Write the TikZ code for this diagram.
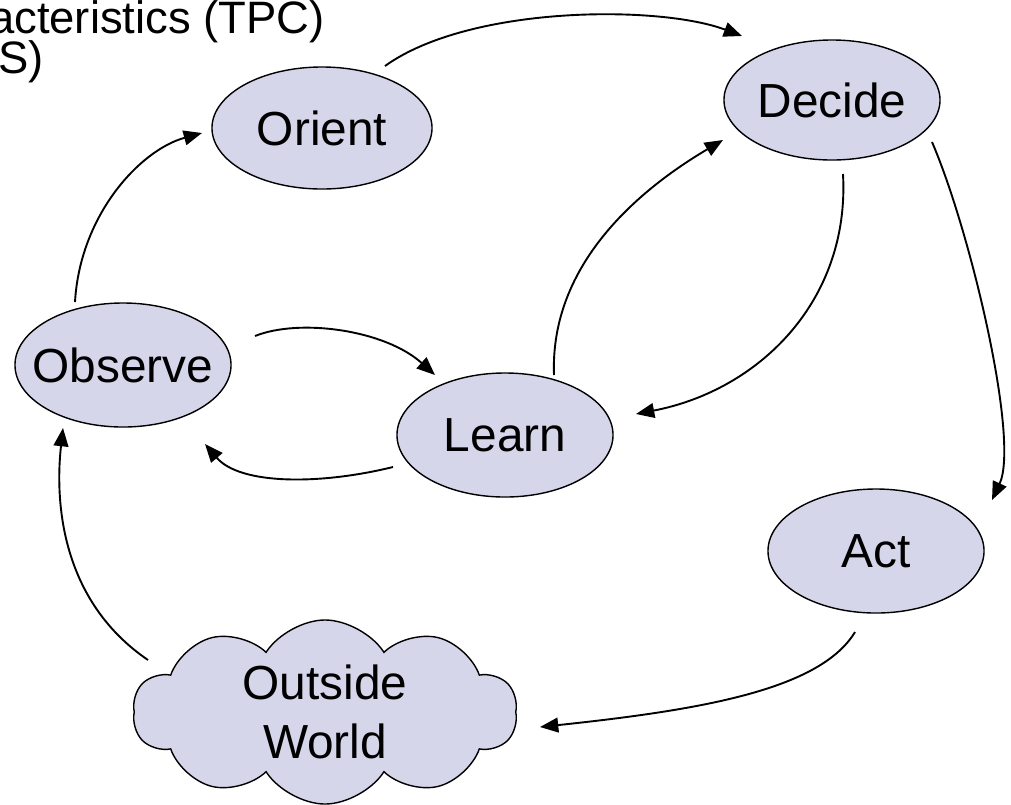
\documentclass[tikz,border=0pt]{standalone}
\usepackage{fontspec}
\setmainfont{Liberation Sans}
\usetikzlibrary{shapes.geometric,shapes.symbols,arrows.meta,calc}
\definecolor{nodefill}{RGB}{214,214,235}
\newcommand{\nfont}{\fontsize{34pt}{41.8pt}\selectfont}
\newcommand{\tfont}{\fontsize{32.3pt}{40pt}\selectfont}
\begin{document}
\begin{tikzpicture}[x=0.025cm,y=-0.025cm,
  ov/.style={ellipse, draw, fill=nodefill, line width=1pt, minimum width=5.4cm, minimum height=3.1cm, inner sep=0pt},
  arr/.style={line width=1.35pt, -{Triangle[length=13pt,width=10.5pt]}},
  lbl/.style={font=\nfont}]
\useasboundingbox (0,0) rectangle (1011,804);
\node[anchor=base east, font=\tfont, inner sep=0pt] (t1) at (325,33) {acteristics (TPC)};
\node[anchor=base west, font=\tfont, inner sep=0pt] (t2) at (-2,73) {S)};
\node[ov, minimum width=5.5cm, minimum height=3.05cm, label={[lbl]center:Orient}] (O) at (322,128) {};
\node[ov, minimum height=3.0cm, label={[lbl]center:Decide}] (D) at (832,100) {};
\node[ov, label={[lbl]center:Observe}] (B) at (123,365) {};
\node[ov, label={[lbl]center:Learn}] (L) at (505,435) {};
\node[ov, label={[lbl]center:Act}] (A) at (876,551) {};
\node[cloud, draw, fill=nodefill, line width=1pt, cloud puffs=10, cloud puff arc=115, cloud ignores aspect, minimum width=9.6cm, minimum height=4.6cm, inner sep=0pt, align=center, font=\nfont] (W) at (325,712) {Outside\\World};
\draw[arr] ($(O)+(63,-62)$) .. controls +(85,-61) and +(-82,-31) .. ($(D)+(-90,-64)$);
\draw[arr] ($(B)+(-48,-63)$) .. controls +(5,-87) and +(-62,17) .. ($(O)+(-120,5)$);
\draw[arr] ($(B)+(132,-29)$) .. controls +(45,-18) and +(-50,-45) .. ($(L)+(-70,-60)$);
\draw[arr] ($(L)+(-112,32)$) .. controls +(-73,18) and +(35,41) .. ($(B)+(82,79)$);
\draw[arr] ($(L)+(49,-60)$) .. controls +(-4,-105) and +(-93,55) .. ($(D)+(-109,40)$);
\draw[arr] ($(D)+(11,74)$) .. controls +(7,126) and +(124,-24) .. ($(L)+(131,-21)$);
\draw[arr] ($(D)+(100,42)$) .. controls +(38,88) and +(28,-60) .. ($(A)+(116,-51)$);
\draw[arr] ($(A)+(-21,81)$) .. controls +(-35,58) and +(160,-17) .. ($(W)+(215,15)$);
\draw[arr] ($(W)+(-177,-52)$) .. controls +(-88,-60) and +(-8,72) .. ($(B)+(-60,63)$);
\end{tikzpicture}
\end{document}
